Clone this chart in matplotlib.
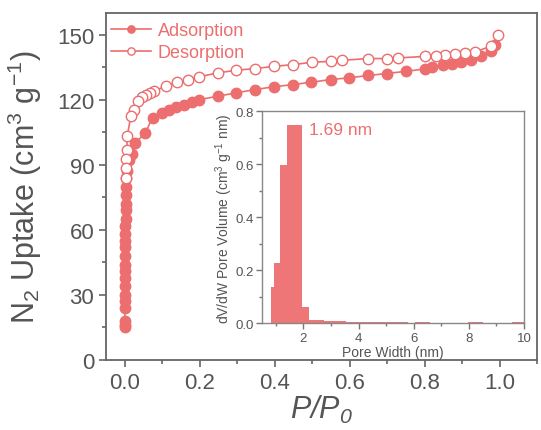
import matplotlib
matplotlib.use("Agg")
import matplotlib.pyplot as plt
import numpy as np
from matplotlib.ticker import MultipleLocator

plt.rcParams["font.family"] = ["Liberation Sans", "DejaVu Sans"]
plt.rcParams["mathtext.fontset"] = "custom"
plt.rcParams["mathtext.rm"] = "Liberation Sans"
plt.rcParams["mathtext.it"] = "Liberation Sans:italic"
plt.rcParams["mathtext.sf"] = "Liberation Sans:italic"

# isotherm data (P/P0, uptake)
ads_p = [0.00002, 0.00004, 0.00006, 0.0001, 0.00015, 0.0002, 0.0003, 0.0004,
         0.0005, 0.0006, 0.0008, 0.001, 0.0012, 0.0015, 0.0018, 0.0022,
         0.0026, 0.003, 0.0035, 0.004, 0.0045, 0.005, 0.012, 0.019, 0.028,
         0.055, 0.074, 0.099, 0.119, 0.138, 0.159, 0.179, 0.199, 0.248,
         0.297, 0.348, 0.398, 0.449, 0.498, 0.549, 0.598, 0.65, 0.699, 0.75,
         0.8, 0.82, 0.849, 0.873, 0.898, 0.924, 0.951, 0.976, 0.989]
ads_v = [15, 16, 18, 24, 27, 30, 34, 38, 41, 44, 48, 52, 55, 58, 62, 65,
         69, 72, 76, 80, 84, 87, 92, 95, 100, 104.8, 111.7, 113.7, 115.5,
         116.7, 117.8, 118.9, 120.1, 121.6, 123.2, 124.7, 126, 127, 128.1,
         129.3, 130.1, 131.2, 132.1, 133.1, 134.2, 135, 135.9, 136.7, 137.5,
         138.5, 140, 142.3, 145.4]

des_p = [0.995, 0.976, 0.934, 0.909, 0.882, 0.855, 0.831, 0.802, 0.73,
         0.699, 0.65, 0.58, 0.549, 0.5, 0.449, 0.398, 0.348, 0.297, 0.248,
         0.199, 0.17, 0.139, 0.11, 0.078, 0.067, 0.056, 0.045, 0.034, 0.025,
         0.016, 0.007, 0.005, 0.004, 0.003, 0.002]
des_v = [149.7, 144.6, 142, 141.6, 141.3, 140.8, 140.4, 140, 139.3, 139,
         139, 138.2, 137.7, 137.3, 136.2, 135.4, 134.4, 133.6, 132.4, 130.6,
         129.3, 128.1, 126.2, 124.1, 122.9, 122.1, 121.3, 119.3, 115.5,
         112.4, 103.5, 97, 92.5, 88.7, 84]

# pore size distribution (bin edges in nm, dV/dW)
psd_left = [0.81, 0.93, 1.17, 1.41, 1.96, 2.2, 2.76, 3.54, 4.62, 5.1, 6.05,
            6.6, 7.97, 9.58]
psd_right = [0.93, 1.17, 1.41, 1.96, 2.2, 2.76, 3.54, 4.62, 5.1, 5.81, 6.6,
             7.2, 8.5, 10.0]
psd_val = [0.138, 0.226, 0.597, 0.749, 0.063, 0.013, 0.009, 0.004, 0.006,
           0.003, 0.004, 0.002, 0.006, 0.004]

red = "#EC6E6E"
bar_red = "#EE7676"
grey = "#555555"
spine = "#666666"

fig = plt.figure(figsize=(5.41, 4.31), dpi=100)
ax = fig.add_axes([0.196, 0.1624, 0.7966, 0.8051])

ax.plot(ads_p, ads_v, "-o", color=red, mfc=red, mec=red, ms=7.5, lw=1.2,
        label="Adsorption")
ax.plot(des_p, des_v, "-o", color=red, mfc="white", mec=red, ms=7.5, lw=1.2,
        label="Desorption")

ax.set_xlim(-0.05, 1.1)
ax.set_ylim(0, 160)
ax.xaxis.set_major_locator(MultipleLocator(0.2))
ax.xaxis.set_minor_locator(MultipleLocator(0.1))
ax.yaxis.set_major_locator(MultipleLocator(30))
ax.yaxis.set_minor_locator(MultipleLocator(15))
ax.tick_params(which="both", direction="out", colors=spine, labelcolor=grey,
               width=1.2, labelsize=16)
ax.tick_params(which="major", length=5)
ax.tick_params(which="minor", length=3)
for s in ax.spines.values():
    s.set_color(spine)
    s.set_linewidth(1.3)

ax.set_xlabel(r"$\mathsf{P/P_0}$", fontsize=22, color=grey, labelpad=0)
ax.set_ylabel(r"N$_2$ Uptake (cm$^3$ g$^{-1}$)", fontsize=22, color=grey,
              labelpad=9)

leg = ax.legend(loc="upper left", bbox_to_anchor=(0.0, 0.99), frameon=False,
                fontsize=13, numpoints=1, markerscale=0.7, handlelength=2.2,
                handletextpad=0.35, labelspacing=0.3, borderaxespad=0.1,
                borderpad=0.2, labelcolor="linecolor")

# inset: pore size distribution
ins = fig.add_axes([0.4843, 0.2476, 0.4843, 0.4925])
widths = np.array(psd_right) - np.array(psd_left)
ins.bar(psd_left, psd_val, width=widths, align="edge", color=bar_red,
        edgecolor="none")
ins.set_xlim(0.5, 10)
ins.set_ylim(0, 0.8)
ins.xaxis.set_major_locator(MultipleLocator(2))
ins.xaxis.set_minor_locator(MultipleLocator(1))
ins.yaxis.set_major_locator(MultipleLocator(0.2))
ins.yaxis.set_minor_locator(MultipleLocator(0.1))
ins.tick_params(which="both", direction="out", colors="#777777",
                labelcolor=grey, width=1, labelsize=9.5, pad=2)
ins.tick_params(which="major", length=4)
ins.tick_params(which="minor", length=2)
ins.yaxis.set_major_formatter(plt.FormatStrFormatter("%.1f"))
for s in ins.spines.values():
    s.set_color("#888888")
    s.set_linewidth(1)
ins.set_xlabel("Pore Width (nm)", fontsize=10, color=grey, labelpad=1)
ins.set_ylabel(r"dV/dW Pore Volume (cm$^3$ g$^{-1}$ nm)", fontsize=10,
               color=grey, labelpad=0)
ins.text(2.2, 0.73, "1.69 nm", fontsize=12.5, color=red, va="center")

fig.savefig("out.png", dpi=100)
